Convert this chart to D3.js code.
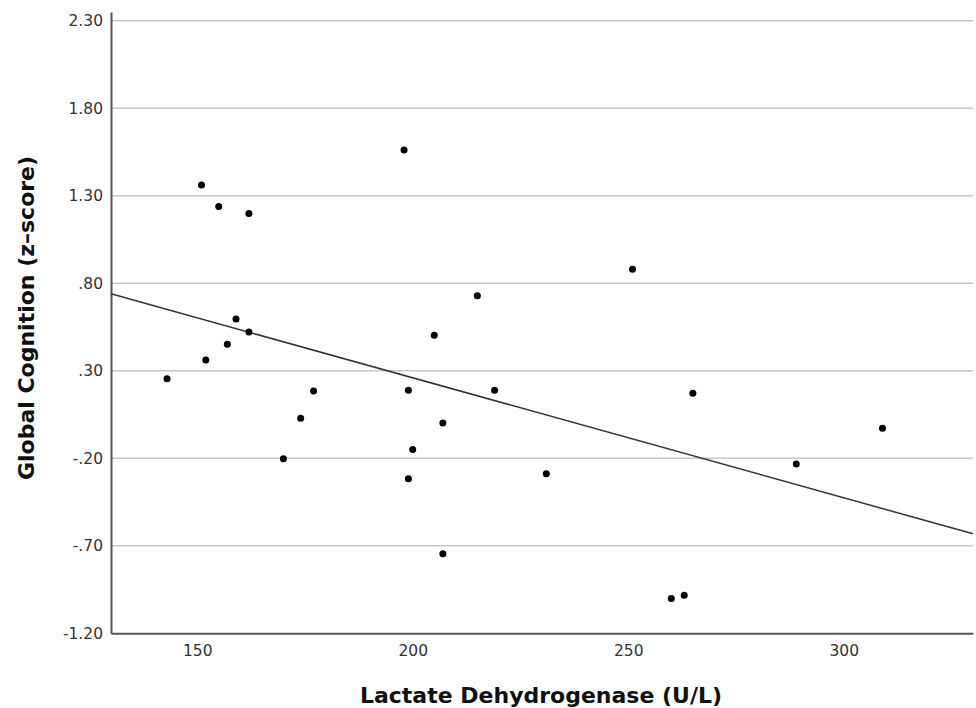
<!DOCTYPE html>
<html>
<head>
<meta charset="utf-8">
<script src="https://cdn.jsdelivr.net/npm/d3@7"></script>
<style>
  body { margin: 0; background: #fff; }
  svg { display: block; font-family: "DejaVu Sans", sans-serif; }
</style>
</head>
<body>
<div id="chart"></div>
<script>
// ---- data ----
const ldh = [143, 151, 152, 155, 157, 159, 162, 162, 170, 174, 177, 198, 199, 199,
             200, 205, 207, 207, 215, 219, 231, 251, 260, 263, 265, 289, 309]
const cognition = [0.254, 1.362, 0.362, 1.238, 0.452, 0.596, 1.198, 0.522, -0.203, 0.029,
                   0.185, 1.562, 0.189, -0.317, -0.150, 0.503, 0.002, -0.746, 0.729, 0.189,
                   -0.289, 0.880, -1.001, -0.982, 0.172, -0.233, -0.028]

const xTicks = [150, 200, 250, 300]
const yTicks = [-1.2, -0.7, -0.2, 0.3, 0.8, 1.3, 1.8, 2.3]
const yTickLabels = ["-1.20", "-.70", "-.20", ".30", ".80", "1.30", "1.80", "2.30"]

const X_TITLE = "Lactate Dehydrogenase (U/L)"
const Y_TITLE = "Global Cognition (z\u2013score)"

// ---- sizes ----
const WIDTH = 976
const HEIGHT = 708
const LEFT = 111
const RIGHT = 973
const TOP = 12
const BOTTOM = 633.3

const points = ldh.map((d, i) => ({x: d, y: cognition[i]}))

const svg = d3.select("#chart").append("svg")
    .attr("width", WIDTH)
    .attr("height", HEIGHT)

const x = d3.scaleLinear()
    .domain([130, 330])
    .range([LEFT, RIGHT])

const y = d3.scaleLinear()
    .domain([-1.2, 2.35])
    .range([BOTTOM, TOP])

// gridlines
svg.append("g")
    .selectAll("line")
    .data(yTicks.filter(d => d > -1.2))
    .join("line")
    .attr("x1", LEFT)
    .attr("x2", RIGHT)
    .attr("y1", d => y(d))
    .attr("y2", d => y(d))
    .attr("stroke", "#c8c8c8")
    .attr("stroke-width", 1.5)

// axes
const xAxis = svg.append("g")
    .attr("transform", `translate(0,${BOTTOM})`)
    .call(d3.axisBottom(x).tickValues(xTicks).tickSize(0).tickPadding(12))

const yAxis = svg.append("g")
    .attr("transform", `translate(${LEFT},0)`)
    .call(d3.axisLeft(y).tickValues(yTicks).tickSize(0).tickPadding(8)
        .tickFormat((d, i) => yTickLabels[i]))

for (const ax of [xAxis, yAxis]) {
    ax.select(".domain").attr("stroke", "#555").attr("stroke-width", 2)
    ax.selectAll("text")
        .attr("fill", "#333")
        .style("font-size", "15.5px")
        .style("font-family", "DejaVu Sans, sans-serif")
}

// regression line (least squares from the points)
const mx = d3.mean(ldh)
const my = d3.mean(cognition)
const slope = d3.sum(points, d => (d.x - mx) * (d.y - my)) / d3.sum(points, d => (d.x - mx) ** 2)
const intercept = my - slope * mx
const fitEnds = x.domain().map(v => ({x: v, y: intercept + slope * v}))

svg.append("path")
    .datum(fitEnds)
    .attr("d", d3.line().x(d => x(d.x)).y(d => y(d.y)))
    .attr("fill", "none")
    .attr("stroke", "#333")
    .attr("stroke-width", 1.5)

// points
svg.append("g")
    .selectAll("circle")
    .data(points)
    .join("circle")
    .attr("cx", d => x(d.x))
    .attr("cy", d => y(d.y))
    .attr("r", 3.5)
    .attr("fill", "#000")

// titles
svg.append("text")
    .attr("x", 541)
    .attr("y", 703)
    .attr("text-anchor", "middle")
    .attr("font-weight", "bold")
    .attr("fill", "#111")
    .style("font-size", "22px")
    .text(X_TITLE)

svg.append("text")
    .attr("transform", "translate(34,318)rotate(-90)")
    .attr("text-anchor", "middle")
    .attr("font-weight", "bold")
    .attr("fill", "#111")
    .style("font-size", "22px")
    .text(Y_TITLE)
</script>
</body>
</html>
